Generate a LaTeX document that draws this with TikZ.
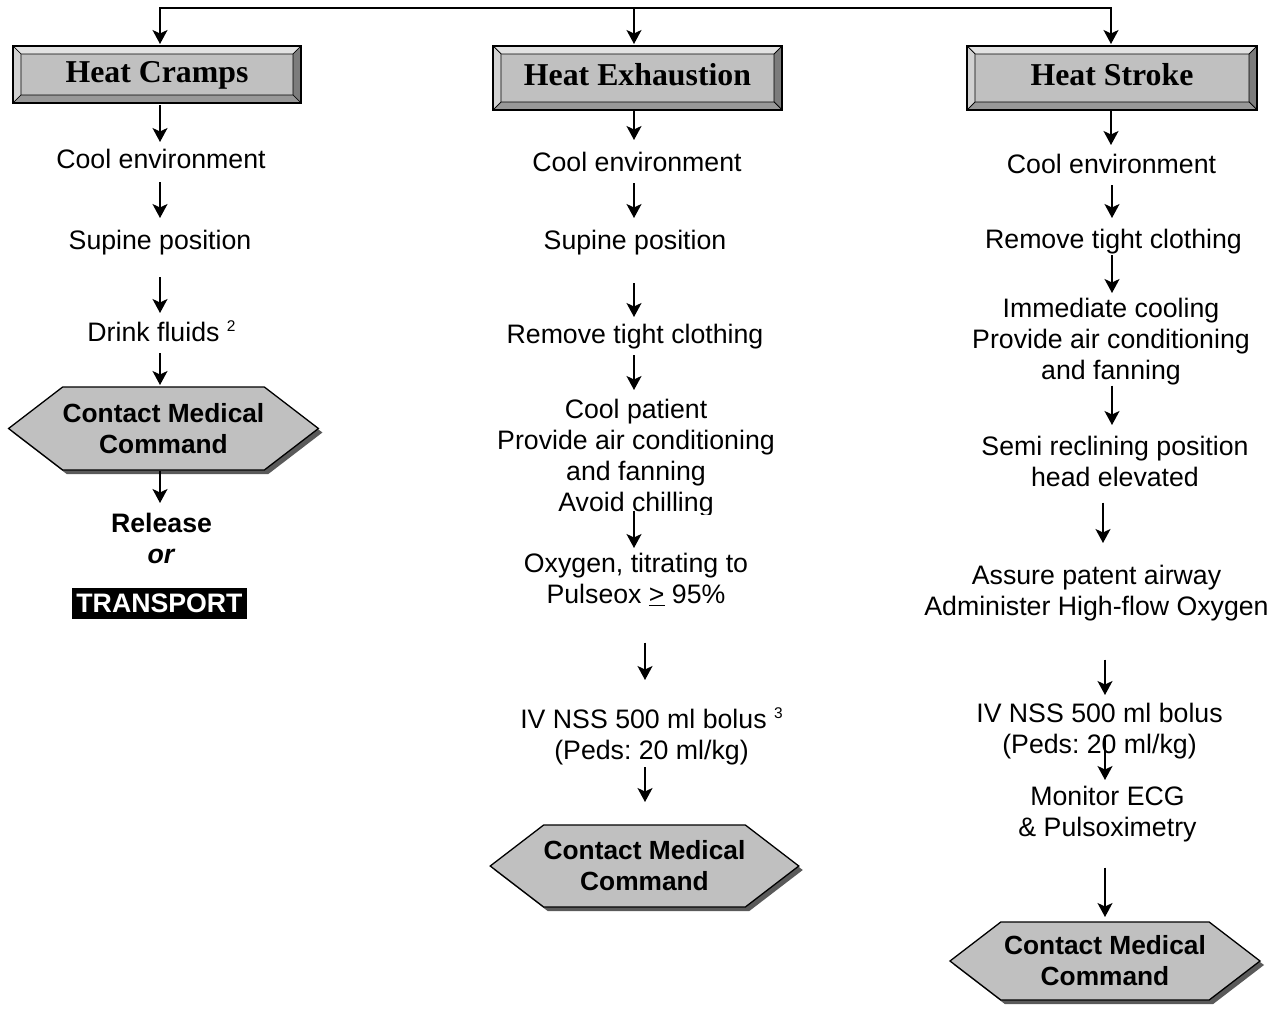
\documentclass[tikz,border=0pt]{standalone}
\usepackage{fontspec}
\setmainfont{Liberation Sans}
\newfontfamily\titlefont{Liberation Serif}
\usetikzlibrary{arrows.meta,shapes.symbols,shadows}

\definecolor{facegray}{HTML}{C0C0C0}
\definecolor{bevtop}{HTML}{E2E2E2}
\definecolor{bevleft}{HTML}{D2D2D2}
\definecolor{bevright}{HTML}{7C7C7C}
\definecolor{bevbottom}{HTML}{989898}
\definecolor{shadowgray}{HTML}{5A5A5A}

% small raised note number
\newcommand\notemark[1]{\raisebox{10pt}{\fontsize{15.5}{15}\selectfont #1}}
\newcommand\bodysize{\fontsize{26.7}{31}\selectfont\frenchspacing}

\tikzset{
  every node/.style={inner sep=0pt, outer sep=0pt},
  stepnode/.style={font=\bodysize, align=center, anchor=north,
    execute at begin node=\strut, execute at end node=\strut},
  boldstep/.style={stepnode, font=\bodysize\bfseries},
  arr/.style={line width=1.7pt, -{Stealth[length=14pt,width=15pt,inset=3.5pt]}},
  titlebox/.style={draw=black, line width=1.5pt, fill=facegray,
    font=\titlefont\bfseries\fontsize{31.8}{36}\selectfont,
    text height=21pt, text depth=7pt,
    path picture={
      \path[draw=black, line width=0.7pt, fill=bevtop]
        (path picture bounding box.north west) -- (path picture bounding box.north east)
        -- ([shift={(-8pt,-8pt)}]path picture bounding box.north east)
        -- ([shift={(8pt,-8pt)}]path picture bounding box.north west) -- cycle;
      \path[draw=black, line width=0.7pt, fill=bevleft]
        (path picture bounding box.north west) -- ([shift={(8pt,-8pt)}]path picture bounding box.north west)
        -- ([shift={(8pt,8pt)}]path picture bounding box.south west)
        -- (path picture bounding box.south west) -- cycle;
      \path[draw=black, line width=0.7pt, fill=bevright]
        (path picture bounding box.north east) -- ([shift={(-8pt,-8pt)}]path picture bounding box.north east)
        -- ([shift={(-8pt,8pt)}]path picture bounding box.south east)
        -- (path picture bounding box.south east) -- cycle;
      \path[draw=black, line width=0.7pt, fill=bevbottom]
        (path picture bounding box.south west) -- ([shift={(8pt,8pt)}]path picture bounding box.south west)
        -- ([shift={(-8pt,8pt)}]path picture bounding box.south east)
        -- (path picture bounding box.south east) -- cycle;
    }},
  hexbox/.style={shape=signal, signal to=east and west, signal pointer angle=75,
    draw=black, line width=1.3pt, fill=facegray, align=center,
    font=\fontsize{26.3}{31}\selectfont\bfseries,
    execute at begin node={\rule{0pt}{25.5pt}},
    drop shadow={shadow xshift=4pt, shadow yshift=-4pt, fill=shadowgray, opacity=1}},
  tagbox/.style={fill=black, text=white, font=\bodysize\bfseries,
    minimum width=175pt, minimum height=31pt, text height=19pt, text depth=0pt}
}

\begin{document}
\begin{tikzpicture}[x=1pt,y=-1pt]
\fill[white] (0,0) rectangle (1280,1009);
\useasboundingbox (0,0) rectangle (1280,1009);

% headings
\node[titlebox, text depth=5pt, minimum width=288pt, minimum height=57pt] (hc) at (157,74.5) {Heat Cramps};
\node[titlebox, minimum width=289pt, minimum height=64pt] (he) at (637.5,78) {Heat Exhaustion};
\node[titlebox, minimum width=290pt, minimum height=64pt] (hs) at (1112,78) {Heat Stroke};

\coordinate (top) at (634,8);
\draw[arr, shorten >=2pt] (top) -| ([xshift=3pt]hc.north);
\draw[arr, shorten >=2pt] (top) -- ([xshift=-3.5pt]he.north);
\draw[arr, shorten >=2pt] (top) -| ([xshift=-1pt]hs.north);

% heat cramps
\node[stepnode] (c1) at (161,146.3) {Cool environment};
\node[stepnode] (s1) at (160,227.3) {Supine position};
\node[stepnode] (d1) at (161.5,319.3) {Drink fluids \notemark{2}};
\node[hexbox, minimum width=307pt, minimum height=83pt] (x1) at (163.5,428.5) {Contact Medical\\Command};
\node[boldstep] (rl) at (161.5,513.3) {Release\\\textit{or}};
\node[tagbox] (tr) at (159.5,603) {TRANSPORT};

% heat exhaustion
\node[stepnode] (c2) at (637,149.3) {Cool environment};
\node[stepnode] (s2) at (635,227.3) {Supine position};
\node[stepnode] (r2) at (635,321.3) {Remove tight clothing};
\begin{scope}
  \clip (440,380) rectangle (840,514.5);
  \node[stepnode] (p2) at (636,399.3) {Cool patient\\Provide air conditioning\\and fanning\\Avoid chilling};
\end{scope}
\node[stepnode] (o2) at (636,553.3) {Oxygen, titrating to\\Pulseox \underline{>} 95\%};
\node[stepnode] (v2) at (651.5,707.3) {IV NSS 500 ml bolus \notemark{3}\\(Peds: 20 ml/kg)};
\node[hexbox, minimum width=305pt, minimum height=82pt] (x2) at (644.5,866) {Contact Medical\\Command};

% heat stroke
\node[stepnode] (c3) at (1111.5,151.3) {Cool environment};
\node[stepnode] (r3) at (1113.5,226.3) {Remove tight clothing};
\node[stepnode] (i3) at (1111,298.3) {Immediate cooling\\Provide air conditioning\\and fanning};
\node[stepnode] (e3) at (1115,436.3) {Semi reclining position\\head elevated};
\node[stepnode] (a3) at (1096.5,565.3) {Assure patent airway\\Administer High-flow Oxygen};
\node[stepnode] (v3) at (1099.5,703.3) {IV NSS 500 ml bolus\\(Peds: 20 ml/kg)};
\node[stepnode] (m3) at (1107.5,786.3) {Monitor ECG\\\& Pulsoximetry};
\node[hexbox, minimum width=310pt, minimum height=78pt] (x3) at (1105,961) {Contact Medical\\Command};

% connectors, heat cramps
\draw[arr] ([xshift=3pt,yshift=-2pt]hc.south) -- ([xshift=-1pt,yshift=4.3pt]c1.north);
\draw[arr] ([xshift=-1pt,yshift=-4.7pt]c1.south) -- ([yshift=9.3pt]s1.north);
\draw[arr] ([yshift=-18.7pt]s1.south) -- ([xshift=-1.5pt,yshift=6.3pt]d1.north);
\draw[arr] ([xshift=-1.5pt,yshift=-2.7pt]d1.south) -- ([xshift=-3.5pt,yshift=2pt]x1.north);
\draw[arr] ([xshift=-3.5pt,yshift=-1pt]x1.south) -- ([xshift=-1.5pt,yshift=10.3pt]rl.north);

% connectors, heat exhaustion
\draw[arr] ([xshift=-3.5pt]he.south) -- ([xshift=-3pt,yshift=9.3pt]c2.north);
\draw[arr] ([xshift=-3pt,yshift=-2.7pt]c2.south) -- ([xshift=-1pt,yshift=9.3pt]s2.north);
\draw[arr] ([xshift=-1pt,yshift=-24.7pt]s2.south) -- ([xshift=-1pt,yshift=4.3pt]r2.north);
\draw[arr] ([xshift=-1pt,yshift=-2.7pt]r2.south) -- ([xshift=-2pt,yshift=9.3pt]p2.north);
\draw[arr] ([xshift=-2pt,yshift=10.3pt]p2.south) -- ([xshift=-2pt,yshift=5.3pt]o2.north);
\draw[arr] ([xshift=9pt,yshift=-29.7pt]o2.south) -- ([xshift=-6.5pt,yshift=27.3pt]v2.north);
\draw[arr] ([xshift=-6.5pt,yshift=1.3pt]v2.south) -- ([xshift=0.5pt,yshift=23pt]x2.north);

% connectors, heat stroke
\draw[arr] ([xshift=-1pt]hs.south) -- ([xshift=-0.5pt,yshift=6.3pt]c3.north);
\draw[arr] ([xshift=0.5pt,yshift=-2.7pt]c3.south) -- ([xshift=-1.5pt,yshift=8.3pt]r3.north);
\draw[arr] ([xshift=-1.5pt,yshift=2.3pt]r3.south) -- ([xshift=1pt,yshift=5.3pt]i3.north);
\draw[arr] ([xshift=1pt,yshift=3.3pt]i3.south) -- ([xshift=-3pt,yshift=11.3pt]e3.north);
\draw[arr] ([xshift=-12pt,yshift=-6.7pt]e3.south) -- ([xshift=6.5pt,yshift=22.3pt]a3.north);
\draw[arr] ([xshift=8.5pt,yshift=-34.7pt]a3.south) -- ([xshift=5.5pt,yshift=8.3pt]v3.north);
\draw[arr] ([xshift=5.5pt,yshift=27.3pt]v3.south) -- ([xshift=-2.5pt,yshift=6.3pt]m3.north);
\draw[arr] ([xshift=-2.5pt,yshift=-21.7pt]m3.south) -- ([yshift=5pt]x3.north);
\end{tikzpicture}
\end{document}
